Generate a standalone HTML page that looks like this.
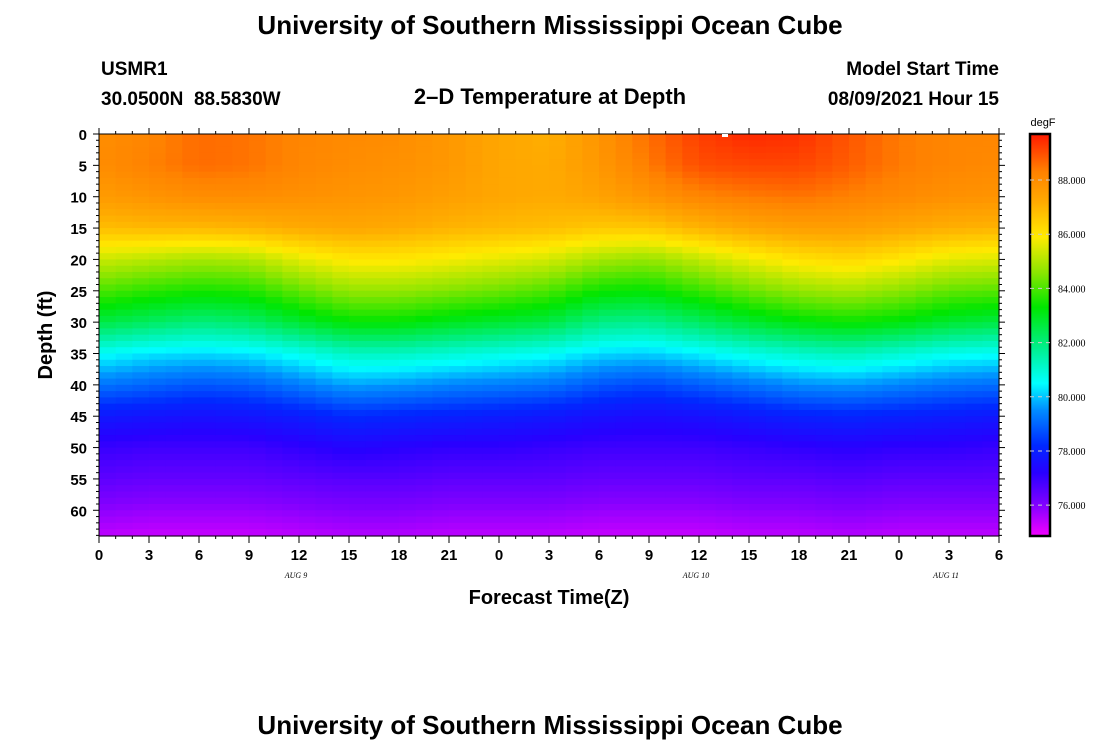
<!DOCTYPE html>
<html><head><meta charset="utf-8"><style>
body{margin:0;background:#fff;}
svg{display:block;font-family:"Liberation Sans",sans-serif;}
</style></head><body>
<svg id="chart" width="1100" height="750" viewBox="0 0 1100 750">
<text x="550" y="34" text-anchor="middle" font-size="26" font-weight="bold">University of Southern Mississippi Ocean Cube</text>
<text x="101" y="75" font-size="19" font-weight="bold">USMR1</text>
<text x="101" y="105" font-size="19" font-weight="bold" xml:space="preserve">30.0500N  88.5830W</text>
<text x="550" y="104" text-anchor="middle" font-size="22" font-weight="bold">2–D Temperature at Depth</text>
<text x="999" y="75" text-anchor="end" font-size="19" font-weight="bold">Model Start Time</text>
<text x="999" y="105" text-anchor="end" font-size="19" font-weight="bold">08/09/2021 Hour 15</text>
<g id="cells"></g>
<g id="axes"></g>
<text x="52" y="335" transform="rotate(-90 52 335)" text-anchor="middle" font-size="20" font-weight="bold">Depth (ft)</text>
<text x="549" y="604" text-anchor="middle" font-size="20" font-weight="bold">Forecast Time(Z)</text>
<g id="cbar"></g>
<text x="550" y="734" text-anchor="middle" font-size="26" font-weight="bold">University of Southern Mississippi Ocean Cube</text>
</svg>
<script>
const times=[0,3,6,9,12,15,18,21,24,27,30,33,36,39,42,45,48,51,54];
const depths=[0,5,10,15,20,25,30,35,40,45,50,55,60,65];
const temps=[
[88.0,88.0,87.6,86.8,85.3,84.0,82.6,80.6,79.2,77.8,77.0,76.5,75.9,75.3],
[88.2,88.3,87.8,86.9,85.1,83.7,82.3,80.3,79.0,77.7,76.9,76.4,75.8,75.2],
[88.6,88.6,88.0,86.9,84.9,83.5,82.0,80.2,78.8,77.6,76.9,76.4,75.8,75.2],
[88.5,88.5,88.0,87.0,85.0,83.6,82.2,80.3,78.9,77.7,76.9,76.4,75.8,75.2],
[88.2,88.2,87.9,87.2,85.6,84.2,82.8,80.7,79.3,77.9,77.1,76.5,75.9,75.3],
[88.1,88.0,87.8,87.3,86.0,84.7,83.3,81.2,79.7,78.2,77.3,76.6,76.0,75.4],
[88.0,87.9,87.7,87.2,86.0,84.7,83.3,81.2,79.6,78.1,77.2,76.6,76.0,75.4],
[87.7,87.7,87.5,87.0,85.8,84.5,83.0,81.0,79.4,78.0,77.1,76.5,75.9,75.3],
[87.3,87.3,87.3,86.9,85.6,84.3,82.8,80.8,79.3,77.9,77.1,76.5,75.9,75.3],
[87.1,87.2,87.2,86.8,85.4,84.0,82.6,80.6,79.2,77.8,77.0,76.5,75.9,75.3],
[87.8,87.7,87.4,86.6,84.9,83.4,81.9,80.2,78.8,77.6,76.9,76.4,75.8,75.2],
[88.6,88.4,87.8,86.6,84.7,83.3,81.8,80.1,78.6,77.5,76.9,76.4,75.8,75.2],
[89.2,89.0,88.2,87.0,85.2,83.8,82.3,80.4,78.9,77.6,76.9,76.4,75.8,75.2],
[89.5,89.1,88.4,87.3,85.7,84.3,82.8,80.8,79.2,77.8,77.0,76.5,75.9,75.3],
[89.4,89.1,88.5,87.5,86.1,84.7,83.2,81.1,79.5,78.0,77.1,76.5,75.9,75.3],
[88.9,88.8,88.3,87.5,86.3,84.9,83.4,81.3,79.6,78.1,77.2,76.6,76.0,75.4],
[88.4,88.4,88.1,87.3,86.0,84.6,83.2,81.0,79.4,78.0,77.1,76.5,75.9,75.3],
[88.2,88.2,87.9,87.1,85.6,84.2,82.8,80.7,79.2,77.9,77.1,76.5,75.9,75.3],
[88.2,88.1,87.8,87.0,85.5,84.1,82.6,80.6,79.1,77.8,77.0,76.5,75.9,75.3]];
const xTickLabels=["0","3","6","9","12","15","18","21","0","3","6","9","12","15","18","21","0","3","6"];
const yTicks=[0,5,10,15,20,25,30,35,40,45,50,55,60];
const cbTicks=[76,78,80,82,84,86,88];
const dateLabels=[{h:12,t:"AUG  9"},{h:36,t:"AUG  10"},{h:51,t:"AUG  11"}];

const X0=99,X1=999,Y0=134,Y1=536,TMAX=54,DMAX=64.1;
const xs=h=>X0+(X1-X0)*h/TMAX;
const ys=d=>Y0+(Y1-Y0)*d/DMAX;
const CB0=134,CB1=536,VMIN=74.86,VMAX=89.7;
const cs=v=>CB1-(CB1-CB0)*(v-VMIN)/(VMAX-VMIN);
const stops=[[74.9,[240,0,255]],[76,[130,0,255]],[77.2,[40,0,255]],[78.2,[0,40,255]],[79.5,[0,140,255]],[80.5,[0,255,255]],[81.7,[0,240,150]],[83.3,[0,230,0]],[84.6,[140,230,0]],[85.9,[255,235,0]],[87.2,[255,170,0]],[88.3,[255,130,0]],[89.7,[255,25,0]]];
function color(v){
  if(v<=stops[0][0])return `rgb(${stops[0][1]})`;
  for(let i=1;i<stops.length;i++){if(v<=stops[i][0]){const a=stops[i-1],b=stops[i],f=(v-a[0])/(b[0]-a[0]);
  return `rgb(${a[1].map((c,k)=>Math.round(c+(b[1][k]-c)*f)).join(',')})`;}}
  return `rgb(${stops[stops.length-1][1]})`;
}
function lookup(h,d){
  let i=Math.min(times.length-2,Math.floor(h/3)),fi=(h-times[i])/3;
  let j=Math.min(depths.length-2,Math.floor(d/5)),fj=(d-depths[j])/5;
  const a=temps[i][j],b=temps[i+1][j],c=temps[i][j+1],e=temps[i+1][j+1];
  return (a*(1-fi)+b*fi)*(1-fj)+(c*(1-fi)+e*fi)*fj;
}
const NS="http://www.w3.org/2000/svg";
function mk(tag,attrs,parent){const el=document.createElementNS(NS,tag);for(const k in attrs)el.setAttribute(k,attrs[k]);parent.appendChild(el);return el;}
const cells=document.getElementById('cells');
for(let h=0;h<TMAX;h++){for(let d=0;d<65;d++){
  const v=lookup(h+0.5,d+0.5);
  const r=mk('rect',{x:xs(h),y:ys(d),width:xs(h+1)-xs(h)+0.6,height:Math.min(ys(d+1),Y1)-ys(d)+0.6,fill:color(v)},cells);
  
  
}}
const ax=document.getElementById('axes');
const fr=mk('rect',{x:X0,y:Y0,width:X1-X0,height:Y1-Y0,fill:'none',stroke:'#000','stroke-width':1},ax);


for(let d=0;d<=64;d++){const major=d%5===0;const y=ys(d);
  mk('line',{x1:X0-(major?6:3),x2:X0,y1:y,y2:y,stroke:'#000'},ax);
  mk('line',{x1:X1,x2:X1+(major?6:3),y1:y,y2:y,stroke:'#000'},ax);}
yTicks.forEach(d=>{const t=mk('text',{x:X0-12,y:ys(d)+6,'text-anchor':'end','font-size':15,'font-weight':'bold'},ax);t.textContent=d;
  
  });
for(let h=0;h<=TMAX;h++){const x=xs(h),major=h%3===0;
  mk('line',{x1:x,x2:x,y1:Y1,y2:Y1+(major?7:3),stroke:'#000'},ax);
  mk('line',{x1:x,x2:x,y1:Y0-(major?6:3),y2:Y0,stroke:'#000'},ax);}
xTickLabels.forEach((l,i)=>{const t=mk('text',{x:xs(i*3),y:560,'text-anchor':'middle','font-size':15,'font-weight':'bold'},ax);t.textContent=l;
  
  });
dateLabels.forEach(o=>{const t=mk('text',{x:xs(o.h)-3,y:578,'text-anchor':'middle','font-size':8,'font-style':'italic','font-family':'Liberation Serif, serif'},ax);t.setAttribute('xml:space','preserve');t.textContent=o.t;
  
  });
mk('rect',{x:722,y:134,width:6,height:3,fill:'#fff'},ax);
const cb=document.getElementById('cbar');
for(let y=CB0;y<CB1;y++){const v=VMIN+(VMAX-VMIN)*(CB1-y-0.5)/(CB1-CB0);
  const r=mk('rect',{x:1030,y:y,width:20,height:1.2,fill:color(v)},cb);
  
  }
mk('rect',{x:1030,y:CB0,width:20,height:CB1-CB0,fill:'none',stroke:'#000','stroke-width':2.5},cb);
cbTicks.forEach(v=>{const y=cs(v);
  mk('line',{x1:1030,x2:1050,y1:y,y2:y,stroke:'#ccc','stroke-dasharray':'4 4','stroke-width':1},cb);
  const t=mk('text',{x:1058,y:y+4,'font-size':10,'font-family':'Liberation Serif, serif'},cb);t.textContent=v.toFixed(3);
  
  });
const u=mk('text',{x:1043,y:126,'text-anchor':'middle','font-size':11},cb);u.textContent='degF';


</script>
</body></html>
